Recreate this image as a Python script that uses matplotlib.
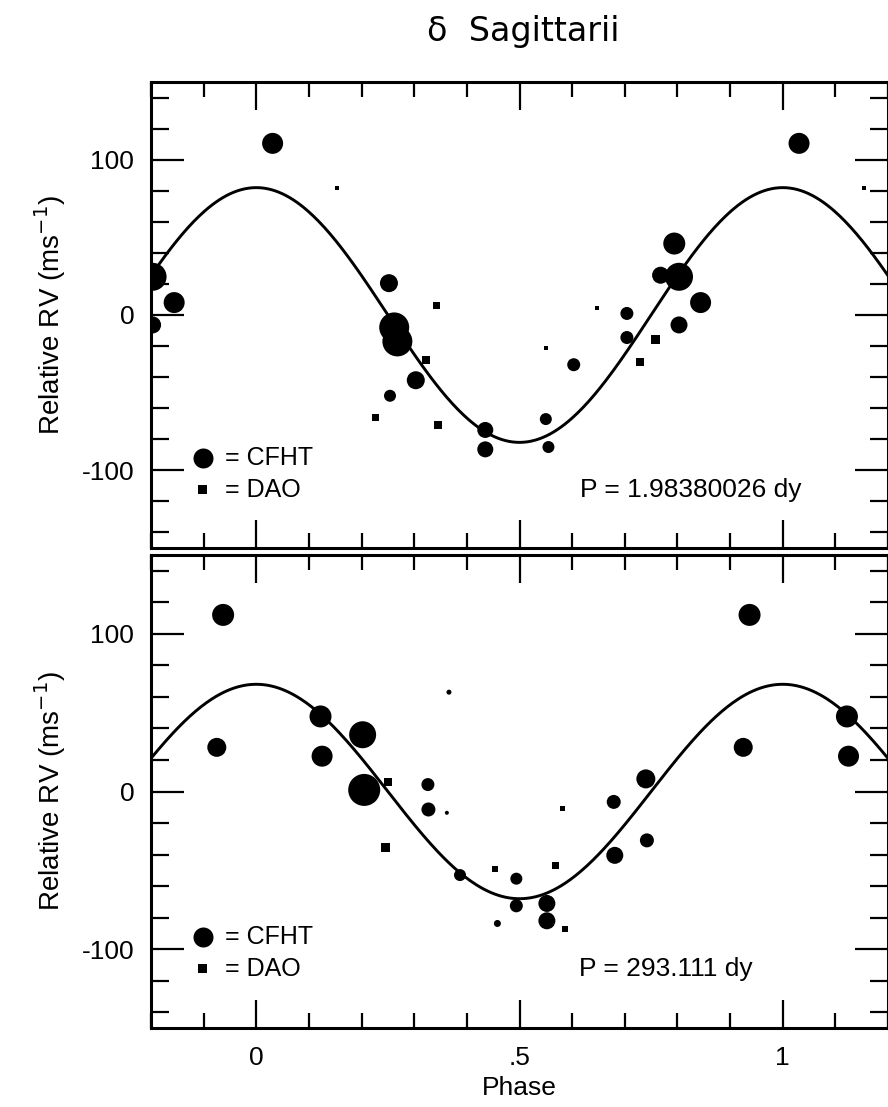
import numpy as np
import matplotlib.pyplot as plt
from matplotlib.ticker import MultipleLocator, FixedLocator, FixedFormatter

# --- panel 1: P = 1.98380026 dy ---
cfht1_phase = [0.031, 0.252, 0.262, 0.268, 0.303, 0.254, 0.435, 0.435, 0.550, 0.555,
               0.603, 0.704, 0.704, 0.794, 0.768, 0.803, 0.844, 0.803]
cfht1_rv = [110.5, 20.5, -8, -17, -42, -52, -74, -86.5, -67, -85,
            -32, 1, -14.5, 46, 25.6, 24.6, 8, -6.4]
cfht1_wt = [21, 18, 30, 30, 18, 12, 16, 16, 12, 12,
            13, 13, 13, 22, 17, 28, 21, 17]

dao1_phase = [0.342, 0.323, 0.227, 0.345, 0.758, 0.729, 0.154, 0.647, 0.550]
dao1_rv = [6.4, -29, -66, -70.5, -16, -30.5, 82, 4.5, -21]
dao1_wt = [7, 8, 7, 8, 9, 8, 4, 4, 4]

amp1 = 82

# --- panel 2: P = 293.111 dy ---
cfht2_phase = [0.937, 0.925, 0.122, 0.125, 0.202, 0.205, 0.326, 0.327, 0.387, 0.494,
               0.494, 0.552, 0.552, 0.679, 0.740, 0.742, 0.681, 0.458, 0.362, 0.366]
cfht2_rv = [112, 28, 47.6, 22.4, 36, 1, 4.4, -11.4, -53, -55.3,
            -72.5, -71, -82, -6.6, 8, -31, -40.5, -83.7, -13.5, 63]
cfht2_wt = [22, 19, 22, 21, 27, 32, 13, 14, 12, 12,
            13, 17, 17, 14, 19, 14, 17, 7, 4, 5]

dao2_phase = [0.250, 0.245, 0.454, 0.586, 0.569, 0.581]
dao2_rv = [5.8, -35.4, -49, -87.5, -47, -11]
dao2_wt = [8, 9, 6, 6, 7, 5]

amp2 = 68

periods = ["P = 1.98380026 dy", "P = 293.111 dy"]

plt.rcParams['font.family'] = ['Liberation Sans', 'DejaVu Sans']

fig = plt.figure(figsize=(8.88, 11.07), dpi=100)
W, H = 888, 1107
ax1 = fig.add_axes([151 / W, 1 - 548 / H, 737 / W, 466 / H])
ax2 = fig.add_axes([151 / W, 1 - 1028 / H, 737 / W, 473 / H])

PX = 0.72  # px -> pt at 100 dpi
XMIN, XMAX = -0.2, 1.2


def wrap(phase, rv, wt):
    # repeat each point one cycle earlier and later, keep those inside the plot
    p = np.asarray(phase)
    r = np.asarray(rv)
    w = np.asarray(wt)
    x = np.concatenate([p - 1, p, p + 1])
    y = np.tile(r, 3)
    s = np.tile(w, 3)
    keep = (x >= XMIN) & (x <= XMAX)
    return x[keep], y[keep], s[keep]


panels = [
    (ax1, cfht1_phase, cfht1_rv, cfht1_wt, dao1_phase, dao1_rv, dao1_wt, amp1,
     periods[0], 0.732),
    (ax2, cfht2_phase, cfht2_rv, cfht2_wt, dao2_phase, dao2_rv, dao2_wt, amp2,
     periods[1], 0.698),
]

xx = np.linspace(XMIN, XMAX, 400)
for ax, cp, cr, cw, dp, dr, dw, amp, ptxt, px in panels:
    x, y, w = wrap(cp, cr, cw)
    ax.scatter(x, y, s=(w * PX) ** 2, marker='o', color='black', linewidths=0, zorder=3)
    x, y, w = wrap(dp, dr, dw)
    ax.scatter(x, y, s=(w * PX) ** 2, marker='s', color='black', linewidths=0, zorder=3)
    ax.plot(xx, amp * np.cos(2 * np.pi * xx), color='black', lw=2.1, zorder=2)

    ax.set_xlim(XMIN, XMAX)
    ax.set_ylim(-150, 150)
    ax.xaxis.set_major_locator(FixedLocator([0, 0.5, 1]))
    ax.xaxis.set_minor_locator(MultipleLocator(0.1))
    ax.yaxis.set_major_locator(FixedLocator([-100, 0, 100]))
    ax.yaxis.set_minor_locator(MultipleLocator(20))
    ax.yaxis.set_major_formatter(FixedFormatter(['-100', '0', '100']))
    ax.tick_params(which='both', direction='in', top=True, right=True, width=1.6,
                   labelsize=19)
    ax.tick_params(axis='x', which='major', length=20, pad=13)
    ax.tick_params(axis='x', which='minor', length=11)
    ax.tick_params(axis='y', which='major', length=24, pad=12)
    ax.tick_params(axis='y', which='minor', length=13)
    for sp in ax.spines.values():
        sp.set_linewidth(2.2)

    ax.set_ylabel('Relative RV (ms$^{-1}$)', fontsize=20)
    ax.yaxis.set_label_coords(-0.112, 0.5)

    # legend keys
    ax.scatter([0.07], [0.193], s=(20 * PX) ** 2, marker='o', color='black',
               linewidths=0, transform=ax.transAxes, clip_on=False)
    ax.scatter([0.069], [0.126], s=(9 * PX) ** 2, marker='s', color='black',
               linewidths=0, transform=ax.transAxes, clip_on=False)
    ax.text(0.1, 0.193, '= CFHT', transform=ax.transAxes, va='center', ha='left',
            fontsize=18)
    ax.text(0.1, 0.124, '= DAO', transform=ax.transAxes, va='center', ha='left',
            fontsize=18)
    ax.text(px, 0.124, ptxt, transform=ax.transAxes, va='center', ha='center',
            fontsize=19)

ax1.tick_params(axis='x', labelbottom=False)
ax2.xaxis.set_major_formatter(FixedFormatter(['0', '.5', '1']))
ax2.set_xlabel('Phase', fontsize=19, labelpad=4)

fig.text(523 / W, 1 - 31 / H, 'δ  Sagittarii', ha='center', va='center',
         fontsize=24, family='DejaVu Sans')

fig.savefig('out.png', dpi=100)
